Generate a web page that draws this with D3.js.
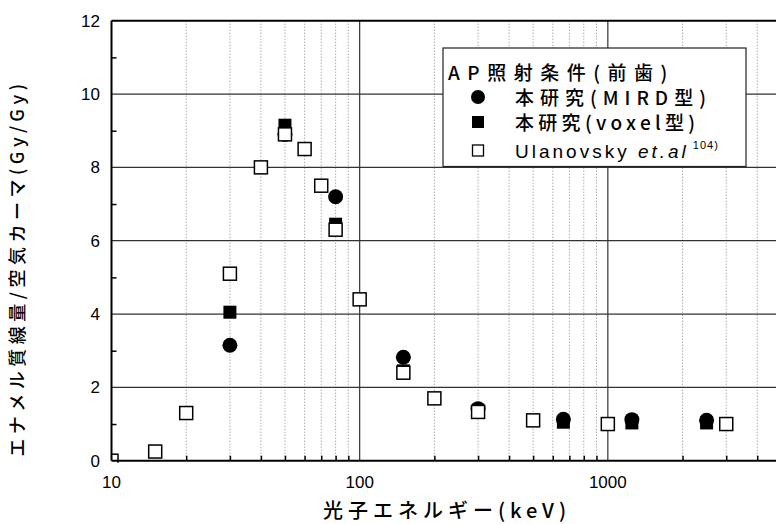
<!DOCTYPE html>
<html>
<head>
<meta charset="utf-8">
<script src="https://cdn.jsdelivr.net/npm/d3@7"></script>
<style>
  body { margin: 0; background: #fff; }
  svg { display: block; font-family: "Noto Sans CJK JP", "Liberation Sans", sans-serif; }
</style>
</head>
<body>
<script>
// photon energy (keV) and enamel dose / air kerma (Gy/Gy)
let mirdEnergy = [30, 50, 80, 150, 300, 662, 1250, 2500];
let mirdValue  = [3.15, 8.9, 7.2, 2.82, 1.42, 1.13, 1.12, 1.1];

let voxelEnergy = [30, 50, 80, 150, 300, 662, 1250, 2500];
let voxelValue  = [4.05, 9.15, 6.45, 2.45, 1.35, 1.05, 1.03, 1.03];

let ulanEnergy = [10, 15, 20, 30, 40, 50, 60, 70, 80, 100, 150, 200, 300, 500, 1000, 3000];
let ulanValue  = [0.0, 0.25, 1.3, 5.1, 8.0, 8.9, 8.5, 7.5, 6.3, 4.4, 2.4, 1.7, 1.33, 1.1, 1.0, 1.0];

let xTickLabels = [10, 100, 1000];
let yTickLabels = [0, 2, 4, 6, 8, 10, 12];

let width = 776;
let height = 524;

let x = d3.scaleLog().domain([10, 10000]).range([111.5, 856]);
let y = d3.scaleLinear().domain([0, 12]).range([460.7, 20.7]);

let svg = d3.select("body").append("svg")
  .attr("width", width)
  .attr("height", height);

let defs = svg.append("defs");
defs.append("clipPath").attr("id", "plotclip")
  .append("rect")
  .attr("x", x(10))
  .attr("y", y(12) - 2)
  .attr("width", width - x(10))
  .attr("height", y(0) - y(12) + 4);

let plot = svg.append("g").attr("clip-path", "url(#plotclip)");

// minor vertical dotted grid
let minors = [];
[10, 100, 1000].forEach((d) => {
  for (let k = 2; k <= 9; k++) minors.push(d * k);
});

plot.selectAll(".minor")
  .data(minors)
  .enter()
  .append("line")
  .attr("x1", (d) => x(d))
  .attr("x2", (d) => x(d))
  .attr("y1", y(12))
  .attr("y2", y(0))
  .attr("stroke", "#888")
  .attr("stroke-width", 1)
  .attr("stroke-dasharray", "1,2");

// major vertical grid
plot.selectAll(".vmajor")
  .data([100, 1000])
  .enter()
  .append("line")
  .attr("x1", (d) => x(d))
  .attr("x2", (d) => x(d))
  .attr("y1", y(12))
  .attr("y2", y(0))
  .attr("stroke", "#333")
  .attr("stroke-width", 1.2);

// horizontal grid
plot.selectAll(".hmajor")
  .data([2, 4, 6, 8, 10])
  .enter()
  .append("line")
  .attr("x1", x(10))
  .attr("x2", width)
  .attr("y1", (d) => y(d))
  .attr("y2", (d) => y(d))
  .attr("stroke", "#333")
  .attr("stroke-width", 1.2);

// tick marks (inward)
svg.append("g")
  .attr("transform", "translate(0," + y(0) + ")")
  .call(d3.axisTop(x).tickValues(minors).tickSize(5).tickFormat(""))
  .call((g) => g.select(".domain").remove())
  .selectAll("line").attr("stroke", "#000").attr("stroke-width", 1.5);

svg.append("g")
  .attr("transform", "translate(" + x(10) + ",0)")
  .call(d3.axisRight(y).tickValues([1, 3, 5, 7, 9, 11]).tickSize(5).tickFormat(""))
  .call((g) => g.select(".domain").remove())
  .selectAll("line").attr("stroke", "#000").attr("stroke-width", 1.5);

// markers
let pts = svg.append("g").attr("clip-path", "url(#plotclip)");

let ulan = ulanEnergy.map((e, i) => ({ e: e, v: ulanValue[i] }));
let mird = mirdEnergy.map((e, i) => ({ e: e, v: mirdValue[i] }));
let voxel = voxelEnergy.map((e, i) => ({ e: e, v: voxelValue[i] }));

pts.selectAll(".mird")
  .data(mird)
  .enter()
  .append("circle")
  .attr("cx", (d) => x(d.e))
  .attr("cy", (d) => y(d.v))
  .attr("r", 7.5)
  .attr("fill", "#000");

pts.selectAll(".voxel")
  .data(voxel)
  .enter()
  .append("rect")
  .attr("x", (d) => x(d.e) - 6.5)
  .attr("y", (d) => y(d.v) - 6.5)
  .attr("width", 13)
  .attr("height", 13)
  .attr("fill", "#000");

pts.selectAll(".ulan")
  .data(ulan)
  .enter()
  .append("rect")
  .attr("x", (d) => x(d.e) - 6.5)
  .attr("y", (d) => y(d.v) - 6.5)
  .attr("width", 13)
  .attr("height", 13)
  .attr("fill", "#fff")
  .attr("stroke", "#000")
  .attr("stroke-width", 1.5);

// frame: top, left, bottom
svg.append("line")
  .attr("x1", x(10)).attr("x2", width)
  .attr("y1", y(12)).attr("y2", y(12))
  .attr("stroke", "#000").attr("stroke-width", 2);
svg.append("line")
  .attr("x1", x(10)).attr("x2", width)
  .attr("y1", y(0)).attr("y2", y(0))
  .attr("stroke", "#000").attr("stroke-width", 2);
svg.append("line")
  .attr("x1", x(10)).attr("x2", x(10))
  .attr("y1", y(12)).attr("y2", y(0))
  .attr("stroke", "#000").attr("stroke-width", 2);

// tick labels
svg.append("g")
  .selectAll("text")
  .data(yTickLabels)
  .enter()
  .append("text")
  .attr("x", 100)
  .attr("y", (d) => y(d))
  .attr("dy", "0.36em")
  .attr("text-anchor", "end")
  .style("font-family", "'Liberation Sans', Arial, sans-serif")
  .style("font-size", "17px")
  .text((d) => d);

svg.append("g")
  .selectAll("text")
  .data(xTickLabels)
  .enter()
  .append("text")
  .attr("x", (d) => x(d))
  .attr("y", 488)
  .attr("text-anchor", "middle")
  .style("font-family", "'Liberation Sans', Arial, sans-serif")
  .style("font-size", "17px")
  .text((d) => d);

// axis titles
svg.append("text")
  .attr("x", 447)
  .attr("y", 518)
  .attr("text-anchor", "middle")
  .style("font-size", "20px")
  .style("font-weight", 500)
  .style("letter-spacing", "5px")
  .text("光子エネルギー(keV)");

svg.append("text")
  .attr("transform", "translate(24,268) rotate(-90)")
  .attr("text-anchor", "middle")
  .style("font-size", "18px")
  .style("font-weight", 500)
  .style("letter-spacing", "4.5px")
  .text("エナメル質線量/空気カーマ(Gy/Gy)");

// legend
let leg = svg.append("g");
leg.append("rect")
  .attr("x", 443)
  .attr("y", 48)
  .attr("width", 303)
  .attr("height", 118.5)
  .attr("fill", "#fff")
  .attr("stroke", "#222")
  .attr("stroke-width", 1.2);

leg.append("text")
  .attr("x", 448)
  .attr("y", 80)
  .style("font-size", "19px")
  .style("font-weight", 500)
  .style("letter-spacing", "7.5px")
  .text("AP照射条件(前歯)");

leg.append("circle").attr("cx", 478).attr("cy", 97).attr("r", 7).attr("fill", "#000");
leg.append("rect").attr("x", 472).attr("y", 116).attr("width", 12).attr("height", 12).attr("fill", "#000");
leg.append("rect").attr("x", 472.5).attr("y", 145).attr("width", 11).attr("height", 11)
  .attr("fill", "#fff").attr("stroke", "#000").attr("stroke-width", 1.3);

leg.append("text")
  .attr("x", 515).attr("y", 105)
  .style("font-size", "19px").style("font-weight", 500).style("letter-spacing", "6px")
  .text("本研究(MIRD型)");

leg.append("text")
  .attr("x", 515).attr("y", 130)
  .style("font-size", "19px").style("font-weight", 500).style("letter-spacing", "4.3px")
  .text("本研究(voxel型)");

let ul = leg.append("text")
  .attr("x", 515).attr("y", 158)
  .style("font-size", "19px").style("letter-spacing", "3px")
  .style("font-family", "'Liberation Sans', Arial, sans-serif");
ul.append("tspan").text("Ulanovsky ");
ul.append("tspan").style("font-style", "italic").text("et.al");
ul.append("tspan").style("font-size", "11px").style("letter-spacing", "1px")
  .attr("dx", 4).attr("dy", -9).text("104)");
</script>
</body>
</html>
